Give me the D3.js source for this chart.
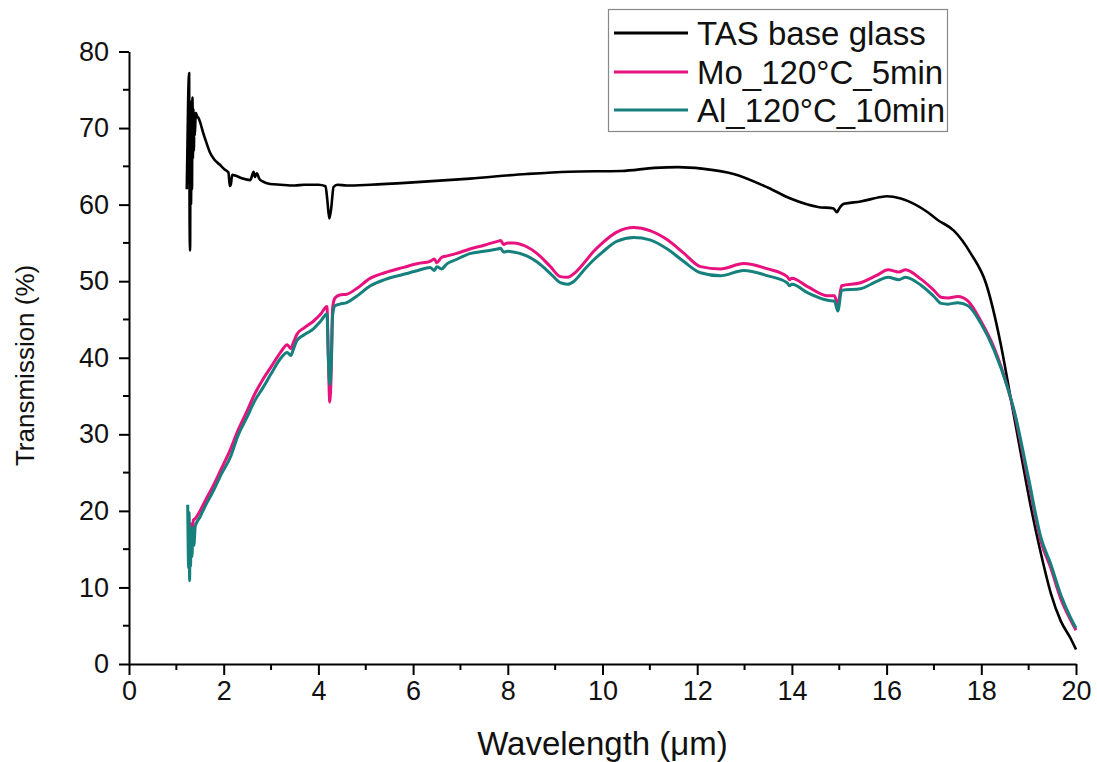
<!DOCTYPE html>
<html>
<head>
<meta charset="utf-8">
<script src="https://cdn.jsdelivr.net/npm/d3@7/dist/d3.min.js"></script>
<style>
  html, body { margin: 0; padding: 0; background: #fff; }
  svg { display: block; font-family: Arial, "Liberation Sans", sans-serif; }
</style>
</head>
<body>
<svg id="chart" width="1097" height="762"></svg>
<script>
// Transmission spectra: wavelength (µm) and transmission (%)
const seriesNames = ["TAS base glass", "Mo_120°C_5min", "Al_120°C_10min"];
const seriesColors = ["#000000", "#e8127f", "#16807d"];

const tasWl = [1.22, 1.25, 1.27, 1.28, 1.29, 1.30, 1.31, 1.32, 1.33, 1.34, 1.35, 1.36, 1.37, 1.38, 1.39, 1.41, 1.44, 1.47, 1.5, 1.57, 1.64, 1.71, 1.8, 1.92, 2.02, 2.1, 2.13, 2.15, 2.18, 2.24, 2.4, 2.56, 2.6, 2.63, 2.66, 2.7, 2.75, 2.83, 2.98, 3.2, 3.5, 3.7, 4.0, 4.15, 4.19, 4.23, 4.27, 4.32, 4.4, 4.6, 5.1, 6.0, 7.2, 8.4, 9.3, 10.4, 11.1, 11.6, 12.1, 12.77, 13.5, 13.97, 14.55, 14.88, 14.95, 15.0, 15.1, 15.45, 15.88, 16.0, 16.3, 16.87, 17.08, 17.42, 17.78, 18.1, 18.41, 18.63, 18.85, 19.05, 19.26, 19.47, 19.68, 19.89, 20.0];
const tasT = [62, 74, 77.2, 58, 54, 71, 60, 73.5, 62, 74, 66, 72.5, 67, 72, 69, 72, 71.5, 71.3, 70.8, 69.3, 68, 66.8, 65.9, 65.2, 64.6, 64.2, 62.4, 62.6, 63.9, 63.8, 63.4, 63.2, 63.8, 64.3, 63.6, 64.1, 63.4, 63.0, 62.7, 62.6, 62.5, 62.6, 62.6, 62.4, 60.5, 58.2, 59.5, 62.3, 62.6, 62.5, 62.6, 62.9, 63.4, 64.0, 64.3, 64.4, 64.8, 64.9, 64.7, 64.0, 62.2, 60.8, 59.7, 59.5, 59.0, 59.5, 60.1, 60.4, 61.0, 61.1, 60.8, 59.0, 58.0, 56.6, 53.6, 49.7, 41.8, 34.4, 27.0, 20.4, 14.4, 9.2, 5.6, 3.3, 1.9];

const moWl = [1.30, 1.33, 1.36, 1.4, 1.5, 1.6, 1.78, 1.95, 2.14, 2.3, 2.49, 2.65, 2.83, 3.0, 3.2, 3.34, 3.42, 3.46, 3.55, 3.7, 3.9, 4.05, 4.18, 4.21, 4.24, 4.27, 4.3, 4.35, 4.45, 4.6, 4.8, 5.1, 5.4, 5.8, 6.1, 6.36, 6.45, 6.5, 6.6, 6.72, 6.9, 7.2, 7.5, 7.78, 7.85, 7.91, 8.0, 8.12, 8.4, 8.62, 8.9, 9.11, 9.26, 9.4, 9.6, 9.8, 10.0, 10.3, 10.66, 11.0, 11.37, 11.71, 12.07, 12.49, 12.98, 13.49, 13.9, 13.95, 14.0, 14.33, 14.76, 14.9, 14.97, 15.05, 15.45, 15.67, 15.8, 16.03, 16.26, 16.4, 16.72, 17.0, 17.15, 17.3, 17.5, 17.72, 17.99, 18.27, 18.56, 18.69, 18.99, 19.26, 19.47, 19.68, 19.89, 20.0];
const moT = [18.5, 16.5, 18.8, 19.0, 20.0, 21.2, 23.3, 25.5, 28.0, 30.5, 33.0, 35.2, 37.2, 38.8, 40.7, 41.7, 41.2, 41.8, 43.1, 43.9, 44.8, 45.7, 46.7, 40.0, 34.2, 38.0, 46.5, 47.8, 48.2, 48.3, 49.0, 50.4, 51.1, 51.8, 52.3, 52.6, 52.9, 52.4, 53.1, 53.3, 53.6, 54.2, 54.7, 55.2, 55.3, 54.8, 55.0, 55.0, 54.5, 53.6, 51.9, 50.6, 50.5, 51.0, 52.3, 53.8, 55.0, 56.4, 57.0, 56.6, 55.4, 53.7, 51.9, 51.6, 52.3, 51.6, 50.6, 50.2, 50.4, 49.3, 48.1, 48.1, 46.9, 49.4, 49.8, 50.4, 50.8, 51.5, 51.2, 51.5, 50.3, 48.8, 47.9, 47.8, 48.0, 47.4, 44.8, 41.3, 36.0, 33.0, 24.0, 16.0, 12.5, 8.5, 5.7, 4.4];

const alWl = [1.24, 1.26, 1.27, 1.28, 1.29, 1.30, 1.31, 1.33, 1.35, 1.37, 1.4, 1.5, 1.6, 1.78, 1.95, 2.14, 2.3, 2.49, 2.65, 2.83, 3.0, 3.2, 3.34, 3.42, 3.46, 3.55, 3.7, 3.9, 4.05, 4.18, 4.21, 4.24, 4.27, 4.3, 4.35, 4.45, 4.6, 4.8, 5.1, 5.4, 5.8, 6.1, 6.36, 6.45, 6.5, 6.6, 6.72, 6.9, 7.2, 7.5, 7.78, 7.85, 7.91, 8.0, 8.12, 8.4, 8.62, 8.9, 9.11, 9.26, 9.4, 9.6, 9.8, 10.0, 10.3, 10.66, 11.0, 11.37, 11.71, 12.07, 12.49, 12.98, 13.49, 13.9, 13.95, 14.0, 14.33, 14.76, 14.9, 14.97, 15.05, 15.45, 15.67, 15.8, 16.03, 16.26, 16.4, 16.72, 17.0, 17.15, 17.3, 17.5, 17.72, 17.99, 18.27, 18.56, 18.69, 18.99, 19.26, 19.47, 19.68, 19.89, 20.0];
const alT = [20.8, 12.5, 19.8, 10.9, 18.0, 12.8, 17.5, 14.0, 17.8, 15.5, 18.0, 19.2, 20.5, 22.6, 24.8, 27.0, 29.8, 32.2, 34.3, 36.1, 37.9, 39.9, 40.7, 40.3, 40.9, 42.3, 43.0, 43.8, 44.8, 45.7, 40.0, 36.5, 39.0, 45.5, 46.8, 47.0, 47.2, 48.0, 49.4, 50.2, 50.9, 51.4, 51.8, 51.4, 51.9, 51.6, 52.3, 52.8, 53.6, 53.9, 54.2, 54.3, 53.8, 53.9, 53.8, 53.3, 52.5, 51.0, 49.8, 49.6, 50.0, 51.4, 52.7, 53.8, 55.2, 55.7, 55.4, 54.2, 52.6, 51.1, 50.7, 51.4, 50.7, 49.8, 49.4, 49.6, 48.5, 47.5, 47.4, 46.1, 48.8, 49.0, 49.6, 50.0, 50.5, 50.2, 50.5, 49.5, 48.0, 47.1, 47.0, 47.2, 46.8, 44.5, 41.0, 36.0, 33.2, 24.5, 16.5, 13.0, 9.0, 6.0, 4.7];

const xTicks = [0, 2, 4, 6, 8, 10, 12, 14, 16, 18, 20];
const yTicks = [0, 10, 20, 30, 40, 50, 60, 70, 80];
const xTitle = "Wavelength (μm)";
const yTitle = "Transmission (%)";

const svg = d3.select("#chart");
const x = d3.scaleLinear().domain([0, 20]).range([129, 1076]);
const y = d3.scaleLinear().domain([0, 80]).range([664, 51.5]);

// Minor ticks (odd µm, every 5 %)
const xMinor = d3.range(1, 20, 2);
const yMinor = d3.range(5, 80, 10);

const tickFont = 27;

// X axis
const gx = svg.append("g").attr("transform", `translate(0,${y(0)})`);
gx.call(d3.axisBottom(x).tickValues(xTicks).tickSize(11).tickSizeOuter(0).tickPadding(6).tickFormat(d3.format("d")));
gx.append("g").selectAll("line").data(xMinor).join("line")
  .attr("x1", d => x(d)).attr("x2", d => x(d)).attr("y1", 0).attr("y2", 6)
  .attr("stroke", "#000").attr("stroke-width", 2);

// Y axis
const gy = svg.append("g").attr("transform", `translate(${x(0)},0)`);
gy.call(d3.axisLeft(y).tickValues(yTicks).tickSize(10).tickSizeOuter(0).tickPadding(10).tickFormat(d3.format("d")));
gy.append("g").selectAll("line").data(yMinor).join("line")
  .attr("y1", d => y(d)).attr("y2", d => y(d)).attr("x1", 0).attr("x2", -6)
  .attr("stroke", "#000").attr("stroke-width", 2);

[gx, gy].forEach(g => {
  g.selectAll(".domain").attr("stroke", "#000").attr("stroke-width", 2);
  g.selectAll(".tick line").attr("stroke", "#000").attr("stroke-width", 2);
  g.selectAll(".tick text").attr("font-size", tickFont).attr("fill", "#111")
    .attr("font-family", "Arial, 'Liberation Sans', sans-serif");
});

// Axis titles
svg.append("text").attr("x", x(10)).attr("y", 755).attr("text-anchor", "middle")
  .attr("font-size", 33).attr("fill", "#111").text(xTitle);
svg.append("text").attr("transform", `translate(34,${y(39)}) rotate(-90)`)
  .attr("text-anchor", "middle").attr("font-size", 26).attr("fill", "#111").text(yTitle);

// Spectra, drawn in order: base glass, Mo, Al
const series = [
  { wl: tasWl, t: tasT, width: 2.6 },
  { wl: moWl, t: moT, width: 3 },
  { wl: alWl, t: alT, width: 3 }
];
const lineGen = d3.line().x(d => x(d[0])).y(d => y(d[1])).curve(d3.curveMonotoneX);

series.forEach((s, i) => {
  const pts = s.wl.map((w, k) => [w, s.t[k]]);
  svg.append("path").datum(pts)
    .attr("d", lineGen)
    .attr("fill", "none")
    .attr("stroke", seriesColors[i])
    .attr("stroke-width", s.width)
    .attr("stroke-linejoin", "round");
});

// Legend
const lg = svg.append("g");
lg.append("rect").attr("x", 608.5).attr("y", 9.5).attr("width", 339).attr("height", 122)
  .attr("fill", "#fff").attr("stroke", "#888").attr("stroke-width", 1.2);
const rowY = [33, 72, 110];
seriesNames.forEach((name, i) => {
  lg.append("line").attr("x1", 614).attr("x2", 688).attr("y1", rowY[i]).attr("y2", rowY[i])
    .attr("stroke", seriesColors[i]).attr("stroke-width", 3);
  lg.append("text").attr("x", 697).attr("y", rowY[i]).attr("dy", "0.35em")
    .attr("font-size", 33).attr("fill", "#111").text(name);
});
</script>
</body>
</html>
